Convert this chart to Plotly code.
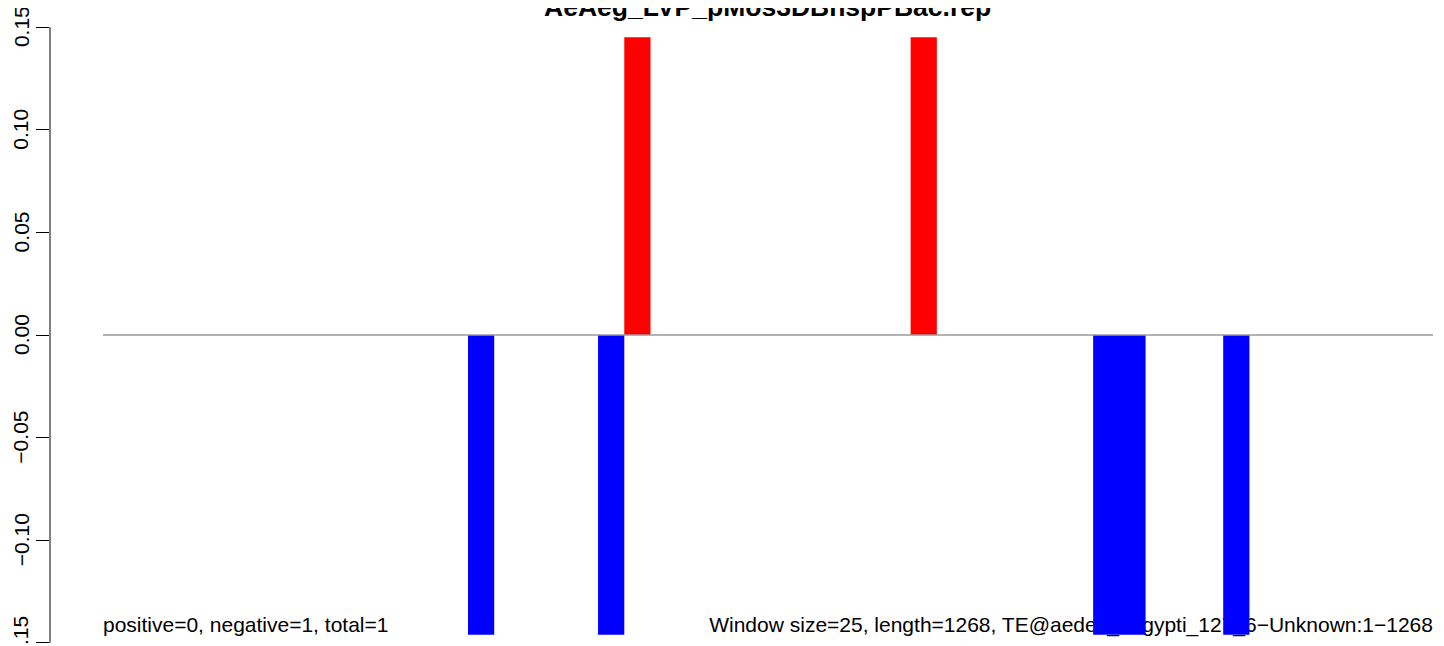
import plotly.graph_objects as go

# ---- data ----
title_text = "AeAeg_LVP_pMos3DBhspPBac.rep"
seq_length = 1268
window_size = 25
bar_start = [348, 472, 497, 770, 944, 1068]
bar_end = [373, 497, 522, 795, 994, 1093]
bar_value = [-0.146, -0.146, 0.145, 0.145, -0.146, -0.146]
y_tick_vals = [-0.15, -0.10, -0.05, 0.00, 0.05, 0.10, 0.15]
y_tick_text = ["\u22120.15", "\u22120.10", "\u22120.05", "0.00", "0.05", "0.10", "0.15"]
left_note = "positive=0, negative=1, total=1"
right_note = "Window size=25, length=1268, TE@aedes_aegypti_127_6\u2212Unknown:1\u22121268"

FONT = "Liberation Sans, Arial, Helvetica, sans-serif"
TXT = 21

fig = go.Figure()

# bottom notes (drawn first so bars sit on top of them)
fig.add_trace(go.Scatter(
    x=[0], y=[-0.1423], mode="text", text=[left_note],
    textposition="middle right", textfont=dict(family=FONT, size=TXT, color="black"),
    hoverinfo="skip", showlegend=False))
fig.add_trace(go.Scatter(
    x=[seq_length], y=[-0.1423], mode="text", text=[right_note],
    textposition="middle left", textfont=dict(family=FONT, size=TXT, color="black"),
    hoverinfo="skip", showlegend=False))

# bars as filled rectangles
for s, e, v in zip(bar_start, bar_end, bar_value):
    col = "#FF0000" if v > 0 else "#0000FF"
    fig.add_trace(go.Scatter(
        x=[s, s, e, e, s], y=[0, v, v, 0, 0], mode="lines",
        fill="toself", fillcolor=col, line=dict(width=0, color=col),
        hoverinfo="skip", showlegend=False))

# zero line
fig.add_trace(go.Scatter(
    x=[0, seq_length], y=[0, 0], mode="lines",
    line=dict(color="#9a9a9a", width=1.6), hoverinfo="skip", showlegend=False))

# y axis line only between the first and last tick (R style)
fig.add_shape(type="line", xref="paper", x0=0, x1=0, yref="y",
              y0=y_tick_vals[0], y1=y_tick_vals[-1], line=dict(color="black", width=1))

# rotated tick labels as annotations so the edge labels are kept
for v, t in zip(y_tick_vals, y_tick_text):
    fig.add_annotation(text=t, xref="paper", yref="y", x=0, y=v, xshift=-29,
                       xanchor="center", yanchor="middle", textangle=-90,
                       showarrow=False, font=dict(family=FONT, size=TXT, color="black"))

fig.add_annotation(text="<b>" + title_text + "</b>", xref="paper", yref="paper",
                   x=0.515, y=1.0256, xanchor="center", yanchor="middle",
                   showarrow=False, font=dict(family=FONT, size=26.5, color="black"))

# the page body adds an 8px offset; margins compensate so the plot area
# lands at the same window position as the reference
fig.update_layout(
    width=1444, height=646,
    margin=dict(l=42, r=8, t=15, b=8, pad=0),
    paper_bgcolor="white", plot_bgcolor="white",
    showlegend=False,
    xaxis=dict(visible=False, range=[-50.5, 1278.5], fixedrange=True),
    yaxis=dict(range=[-0.1515, 0.152], tickvals=y_tick_vals, showticklabels=False,
               ticks="outside", ticklen=13, tickwidth=1, tickcolor="black",
               showgrid=False, zeroline=False, showline=False, automargin=False),
)

fig.write_html("out.html")
